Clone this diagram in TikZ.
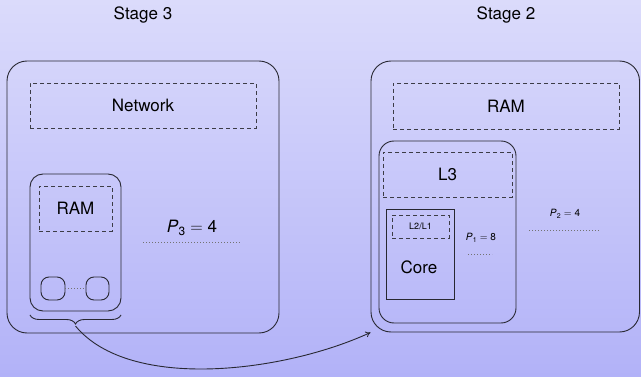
\documentclass[tikz,border=0pt]{standalone}
\usepackage{fontspec}
\setmainfont{TeX Gyre Heros}
\usetikzlibrary{decorations.pathreplacing,arrows.meta}
\definecolor{bgtop}{RGB}{219,219,251}
\definecolor{bgbottom}{RGB}{178,178,248}
\definecolor{edge}{RGB}{40,40,50}
\definecolor{dashedge}{RGB}{60,60,70}
\newcommand{\Pvar}[2]{\textit{P}\textsubscript{#1}\;$=$\;#2}
\begin{document}
\begin{tikzpicture}[x=1pt,y=-1pt,
  lbl/.style={font=\fontsize{17}{20}\selectfont, inner sep=0pt},
  smalllbl/.style={font=\fontsize{9}{11}\selectfont, inner sep=0pt},
  pitlbl/.style={font=\fontsize{10}{12}\selectfont, inner sep=0pt},
  outer/.style={draw=edge, line width=0.9pt, rounded corners=#1, inner sep=0pt},
  outer/.default=20pt,
  dashbox/.style={draw=dashedge, line width=0.9pt, dash pattern=on 4pt off 3pt, inner sep=0pt},
  corebox/.style={draw=edge, line width=0.9pt, inner sep=0pt},
  dots/.style={draw=black!55, line width=0.7pt, dash pattern=on 0.7pt off 2.3pt},
  link/.style={draw=edge, line width=0.9pt, -{To[length=5pt,width=6pt]}}
]
% background
\shade[top color=bgtop, bottom color=bgbottom] (0,0) rectangle (641,377);
\useasboundingbox (0,0) rectangle (641,377);

% titles
\node[lbl] (s3) at (143,15) {Stage 3};
\node[lbl] (s2) at (506,15) {Stage 2};

% ---- stage 3: cluster of nodes ----
\node[outer, minimum width=272pt, minimum height=272pt] (L) at (143,197) {};
\node[dashbox, lbl, minimum width=226pt, minimum height=45pt] (net) at (143,105.5) {Network};
\node[outer=13pt, minimum width=91pt, minimum height=137pt] (node3) at (75.5,242.5) {};
\node[dashbox, lbl, minimum width=73pt, minimum height=45pt] (ram3) at (75.5,208.5) {RAM};
\node[outer=8pt, minimum width=24pt, minimum height=23pt] (c1) at (53,288.5) {};
\node[outer=8pt, minimum width=23pt, minimum height=23pt] (c2) at (97.5,288.5) {};
\draw[dots] (c1) -- (c2);
\node[lbl] (p3) at (192,228) {\Pvar{3}{4}};
\coordinate (d3a) at (143,242);
\coordinate (d3b) at (240,242);
\draw[dots] (d3a) -- (d3b);
\coordinate (br1) at (30,315);
\coordinate (br2) at (121,315);
\draw[edge, line width=0.9pt, decorate, decoration={brace, mirror, amplitude=9pt}] (br1) -- (br2);
\coordinate (brtip) at (75.5,326);

% ---- stage 2: single node ----
\node[outer, minimum width=268.5pt, minimum height=271pt] (R) at (505.25,196.5) {};
\node[dashbox, lbl, minimum width=226pt, minimum height=46pt] (ram2) at (506,106) {RAM};
\node[outer=15pt, minimum width=137pt, minimum height=182pt] (sock) at (447.5,232) {};
\node[dashbox, lbl, minimum width=129pt, minimum height=45pt] (l3) at (447.5,174.5) {L3};
\node[corebox, minimum width=68pt, minimum height=90pt] (core) at (420,254) {};
\node[dashbox, smalllbl, minimum width=57pt, minimum height=23pt] (l2) at (420.5,226.5) {L2/L1};
\node[lbl] (corelbl) at (419,267) {Core};
\node[pitlbl] (p1) at (481,238) {\Pvar{1}{8}};
\coordinate (d1a) at (468,254);
\coordinate (d1b) at (492,254);
\draw[dots] (d1a) -- (d1b);
\node[pitlbl] (p2) at (565,214) {\Pvar{2}{4}};
\coordinate (d2a) at (529,230);
\coordinate (d2b) at (599,230);
\draw[dots] (d2a) -- (d2b);

% mapping arrow
\draw[link] (brtip) .. controls (130,392) and (285,372) .. (R.south west);
\end{tikzpicture}
\end{document}
